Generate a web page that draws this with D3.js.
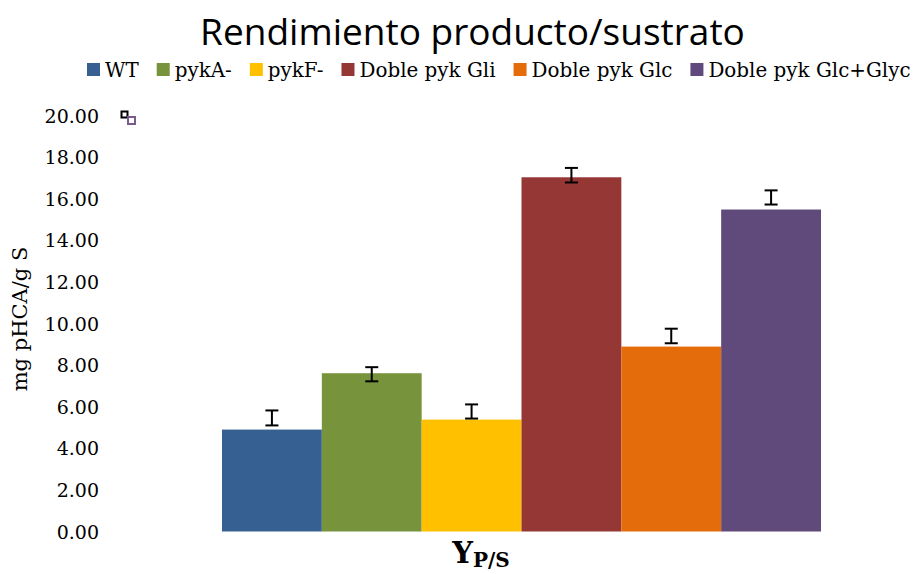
<!DOCTYPE html>
<html><head><meta charset="utf-8">
<script src="https://cdn.jsdelivr.net/npm/d3@7"></script>
<style>body{margin:0;background:#fff}svg{display:block}</style>
</head><body>
<svg id="c" width="917" height="574"></svg>
<script>
const series = ["WT","pykA-","pykF-","Doble pyk Gli","Doble pyk Glc","Doble pyk Glc+Glyc"];
const values = [4.90, 7.61, 5.38, 17.03, 8.89, 15.48];
const errCenter = [5.46, 7.56, 5.77, 17.13, 9.40, 16.06];
const errHalf = [0.36, 0.34, 0.34, 0.35, 0.35, 0.34];
const colors = ["#376092","#77933c","#ffc000","#953735","#e46c0a","#604a7b"];
const yTicks = [0,2,4,6,8,10,12,14,16,18,20];
const title = "Rendimiento producto/sustrato";
const yTitle = "mg pHCA/g S";

const svg = d3.select("#c");
const serif = "'DejaVu Serif', serif";

const y = d3.scaleLinear().domain([0,20]).range([531.5,115.5]);
const x = d3.scaleBand().domain(series).range([222,821]).padding(0);

// title
const t = svg.append("text").attr("x",472.5).attr("y",45).attr("text-anchor","middle")
  .attr("font-family","'Open Sans', sans-serif").attr("font-size",32).attr("fill","#000").text(title);
const tw = t.node().getComputedTextLength();
t.attr("font-size", 32*545/tw);

// legend
let lx = 87;
series.forEach((s,i)=>{
  svg.append("rect").attr("x",lx).attr("y",63).attr("width",13).attr("height",13).attr("fill",colors[i]);
  const tt = svg.append("text").attr("x",lx+18).attr("y",77).attr("font-family",serif).attr("font-size",19.9).attr("fill","#000").text(s);
  lx += 18 + tt.node().getComputedTextLength() + 18;
});

// y axis ticks (no line)
const yAxis = d3.axisLeft(y).tickValues(yTicks).tickFormat(d3.format(".2f")).tickSize(0).tickPadding(0);
const ga = svg.append("g").attr("transform","translate(99,0)").call(yAxis);
ga.select(".domain").remove();
ga.selectAll("text").attr("font-family",serif).attr("font-size",19).attr("fill","#000").attr("dy","0.35em");

// y title
svg.append("text").attr("transform","translate(27,319) rotate(-90)").attr("text-anchor","middle")
  .attr("font-family",serif).attr("font-size",21).attr("fill","#000").text(yTitle);

// bars
svg.append("g").selectAll("rect").data(series).join("rect")
  .attr("x",d=>x(d)).attr("width",x.bandwidth())
  .attr("y",(d,i)=>y(values[i])).attr("height",(d,i)=>y(0)-y(values[i]))
  .attr("fill",(d,i)=>colors[i]);

// error bars
const eg = svg.append("g").attr("stroke","#000").attr("stroke-width",2);
series.forEach((s,i)=>{
  const cx = x(s)+x.bandwidth()/2;
  const top = y(errCenter[i]+errHalf[i]), bot = y(errCenter[i]-errHalf[i]);
  eg.append("line").attr("x1",cx).attr("x2",cx).attr("y1",top).attr("y2",bot);
  eg.append("line").attr("x1",cx-6.5).attr("x2",cx+6.5).attr("y1",top).attr("y2",top);
  eg.append("line").attr("x1",cx-6.5).attr("x2",cx+6.5).attr("y1",bot).attr("y2",bot);
});

// small marker icon
svg.append("rect").attr("x",121.5).attr("y",111.5).attr("width",6).attr("height",6).attr("fill","#fff").attr("stroke","#000").attr("stroke-width",2);
svg.append("rect").attr("x",128).attr("y",117).attr("width",7).attr("height",7).attr("fill","#fff").attr("stroke","#7b5a8f").attr("stroke-width",2);

// x label
const xl = svg.append("text").attr("x",481).attr("y",563).attr("text-anchor","middle")
  .attr("font-family",serif).attr("font-weight","bold").attr("fill","#000");
xl.append("tspan").attr("font-size",29).text("Y");
xl.append("tspan").attr("font-size",20).attr("dy",4).text("P/S");
</script>
</body></html>
